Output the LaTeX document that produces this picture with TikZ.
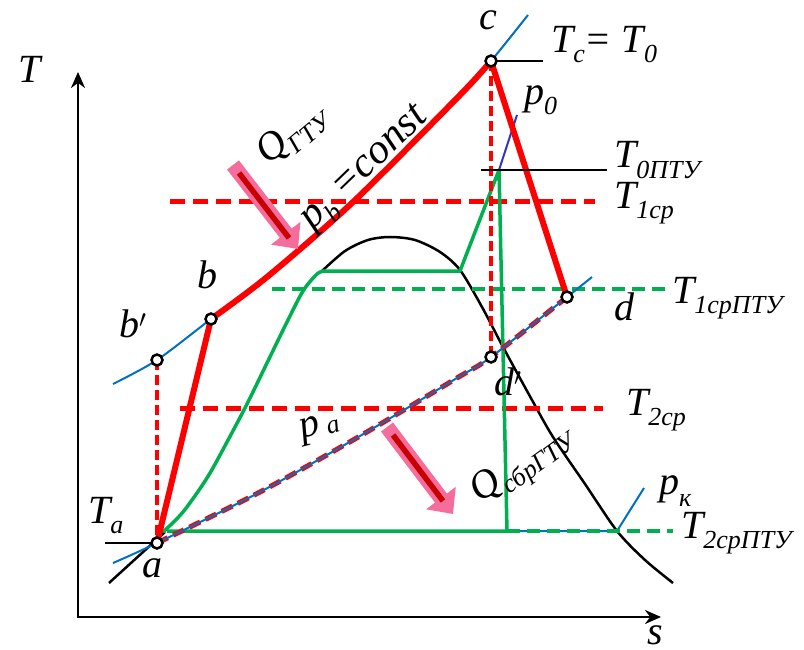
\documentclass[tikz,border=0pt]{standalone}
\usepackage{fontspec}
\setmainfont{Liberation Serif}
\usetikzlibrary{arrows.meta}
\definecolor{rd}{RGB}{255,0,0}
\definecolor{gr}{RGB}{0,176,80}
\definecolor{bl}{RGB}{0,112,192}
\definecolor{blp}{RGB}{51,51,204}
\definecolor{pk}{RGB}{245,110,155}
\definecolor{dr}{RGB}{200,0,0}
\newcommand\Sb[2][-10pt]{\raisebox{#1}{\fontsize{26}{28}\selectfont #2}}
\begin{document}
\begin{tikzpicture}[x=1pt,y=-1pt,
  lbl/.style={font=\fontsize{40}{42}\selectfont\itshape, inner sep=0pt},
  thickred/.style={rd, line width=6pt, line cap=round, line join=round},
  reddash/.style={rd, line width=5pt, dash pattern=on 15pt off 8pt},
  reddashthin/.style={rd, line width=3.5pt, dash pattern=on 10pt off 5pt},
  redcurvedash/.style={rd, line width=5pt, dash pattern=on 12pt off 6pt},
  greendash/.style={gr, line width=3.5pt, dash pattern=on 13pt off 7pt},
  greenline/.style={gr, line width=3.5pt, line join=round},
  isobar/.style={bl, line width=2pt},
  isobarzero/.style={blp, line width=2pt},
  dome/.style={black, line width=2.5pt},
  thinblack/.style={black, line width=2pt},
  ptmark/.style={circle, draw=black, fill=white, line width=2.5pt, minimum size=11pt, inner sep=0pt},
  axisline/.style={black, line width=2.5pt, {Stealth[length=16pt,width=14pt]}-{Stealth[length=16pt,width=14pt]}},
  heatarrow/.style={pk, line width=15pt, -{Triangle[length=20pt,width=36pt]}},
  heatcore/.style={dr, line width=5.5pt},
]
\useasboundingbox (0,0) rectangle (804,650);

% key points
\coordinate (a) at (157,543);
\coordinate (b) at (211,319);
\coordinate (bp) at (157,360);
\coordinate (c) at (491,61);
\coordinate (d) at (567,297);
\coordinate (dp) at (491,357);

% axes
\coordinate (O) at (78,617);
\coordinate (Ty) at (78,72);
\coordinate (Sx) at (661,617);
\draw[axisline] (Ty) -- (O) -- (Sx);

% saturation dome
\draw[dome] (109,583) -- (165,532);
\draw[dome] plot[smooth] coordinates {(322,271) (345,251) (368,240) (390,237) (415,240) (440,252) (460,270) (482,307) (503,347) (532,400) (553,437) (585,484) (617,531) (645,560) (673,583)};

% average temperature lines
\draw[reddash] (170,202) -- (595,202);
\draw[reddash] (180,408) -- (603,408);
\draw[greendash] (272,289) -- (667,289);

% condenser isobar p_k
\draw[isobar] (507,531) -- (617,531) -- (644,488);
\draw[greendash] (507,531) -- (673,531);

% steam cycle
\draw[greenline] plot[smooth] coordinates {(163,532) (183,512) (207,478) (227,442) (247,404) (267,363) (287,322) (303,291) (317,274) (324,271)};
\draw[greenline] (323,271) -- (460,271) -- (499,170) -- (507,531) -- (167,531);
\draw[isobarzero] (499,170) -- (517,115);

% gas isobars
\draw[redcurvedash] plot[smooth] coordinates {(157,543) (260,492) (360,436) (457,378) (491,357) (567,297)};
\draw[isobar] plot[smooth] coordinates {(113,563) (157,543) (260,492) (360,436) (457,378) (491,357) (567,297) (592,277)};
\draw[isobar] plot[smooth] coordinates {(113,384) (157,360) (211,319) (267,277) (353,202) (460,95) (491,61) (528,15)};

% dashed verticals
\draw[reddashthin] (bp) -- (a);
\draw[reddashthin] (c) -- (dp);

% gas turbine cycle
\draw[thickred] (a) -- (b);
\draw[thickred] plot[smooth] coordinates {(211,319) (267,277) (353,202) (460,95) (491,61)};
\draw[thickred] (c) -- (d);

% temperature ticks
\coordinate (tcE) at (543,61);
\coordinate (t0W) at (481,170);
\coordinate (t0E) at (607,170);
\coordinate (taW) at (105,543);
\draw[thinblack] (c) -- (tcE);
\draw[thinblack] (t0W) -- (t0E);
\draw[thinblack] (taW) -- (a);

% point markers
\node[ptmark] (na) at (a) {};
\node[ptmark] (nb) at (b) {};
\node[ptmark] (nbp) at (bp) {};
\node[ptmark] (nc) at (c) {};
\node[ptmark] (nd) at (d) {};
\node[ptmark] (ndp) at (dp) {};

% heat arrows
\coordinate (h1s) at (233,165);
\coordinate (h1e) at (298,249);
\coordinate (h1cs) at (239,173);
\coordinate (h1ce) at (289,238);
\draw[heatarrow] (h1s) -- (h1e);
\draw[heatcore] (h1cs) -- (h1ce);
\coordinate (h2s) at (387,427);
\coordinate (h2e) at (453,514);
\coordinate (h2cs) at (393,435);
\coordinate (h2ce) at (443,501);
\draw[heatarrow] (h2s) -- (h2e);
\draw[heatcore] (h2cs) -- (h2ce);

% labels
\node[lbl, anchor=base west] (lT) at (18,83) {T};
\node[lbl, anchor=base west] (ls) at (647,644) {s};
\node[lbl, anchor=base west] (lc) at (479,30) {c};
\node[lbl, anchor=base west] (lTc) at (551,53) {T\Sb{c}= T\Sb{0}};
\node[lbl, anchor=base west] (lp0) at (524,105) {p\Sb{0}};
\node[lbl, anchor=base west] (lT0) at (614,168) {T\Sb{0ПТУ}};
\node[lbl, anchor=base west] (lT1) at (614,208) {T\Sb{1ср}};
\node[lbl, anchor=base west] (lT1p) at (672,303) {T\Sb{1срПТУ}};
\node[lbl, anchor=base west] (ld) at (614,320) {d};
\node[lbl, anchor=base west] (ldp) at (494,395) {d$'$};
\node[lbl, anchor=base west] (lT2) at (626,415) {T\Sb{2ср}};
\node[lbl, anchor=base west] (lpk) at (659,494) {p\Sb[-12pt]{к}};
\node[lbl, anchor=base west] (lT2p) at (681,538) {T\Sb{2срПТУ}};
\node[lbl, anchor=base west] (lTa) at (88,523) {T\Sb{a}};
\node[lbl, anchor=base west] (la) at (142,577) {a};
\node[lbl, anchor=base west] (lbp) at (119,337) {b$'$};
\node[lbl, anchor=base west] (lb) at (197,288) {b};
\node[lbl, rotate=40] (lQ) at (292,135) {Q\Sb{ГТУ}};
\node[lbl, rotate=44, font=\fontsize{42}{44}\selectfont\itshape] (lpb) at (366,170) {p\Sb{b} =const};
\node[lbl, rotate=15] (lpa) at (320,428) {p\,\Sb[-3pt]{a}};
\node[lbl, rotate=36] (lQs) at (523,466) {Q\Sb{сбрГТУ}};
\end{tikzpicture}
\end{document}
